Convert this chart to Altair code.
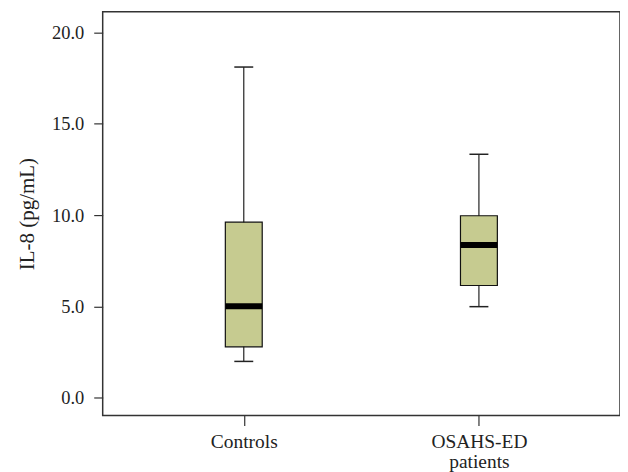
import altair as alt
import pandas as pd

groups = ["Controls", "OSAHS-ED patients"]
whisker_low = [1.98, 4.98]
q1 = [2.78, 6.14]
median = [5.0, 8.36]
q3 = [9.61, 9.96]
whisker_high = [18.11, 13.33]

df = pd.DataFrame({
    "group": groups,
    "lo": whisker_low,
    "q1": q1,
    "med": median,
    "q3": q3,
    "hi": whisker_high,
})

FONT = "Liberation Serif"

x_enc = alt.X(
    "group:N",
    scale=alt.Scale(type="point", padding=0.6),
    sort=groups,
    axis=alt.Axis(
        title=None,
        labelAngle=0,
        labelFont=FONT,
        labelFontSize=19.5,
        labelColor="#222",
        tickSize=10,
        tickColor="#333",
        tickWidth=1.2,
        domain=False,
        grid=False,
        labelPadding=7,
        labelLineHeight=20.5,
        labelExpr="datum.value == 'OSAHS-ED patients' ? ['OSAHS-ED', 'patients'] : datum.value",
    ),
)

y_scale = alt.Scale(domain=[-0.98, 21.14], nice=False, zero=False)
y_axis = alt.Axis(
    title="IL-8 (pg/mL)",
    titleFont=FONT,
    titleFontSize=21,
    titleFontWeight="normal",
    titleColor="#222",
    titlePadding=14,
    values=[0, 5, 10, 15, 20],
    format=".1f",
    labelFont=FONT,
    labelFontSize=18.5,
    labelColor="#222",
    tickSize=9,
    tickColor="#333",
    tickWidth=1.2,
    labelPadding=10,
    domain=False,
    grid=False,
)

base = alt.Chart(df)

whisker = base.mark_rule(color="#222", strokeWidth=1.2).encode(
    x=x_enc,
    y=alt.Y("lo:Q", scale=y_scale, axis=y_axis),
    y2="hi:Q",
)

caps_lo = base.mark_tick(color="#222", size=19, thickness=1.5, orient="horizontal", opacity=1).encode(
    x=x_enc, y=alt.Y("lo:Q", scale=y_scale)
)
caps_hi = base.mark_tick(color="#222", size=19, thickness=1.5, orient="horizontal", opacity=1).encode(
    x=x_enc, y=alt.Y("hi:Q", scale=y_scale)
)

box = base.mark_bar(size=37, fill="#C6CB90", stroke="#111", strokeWidth=1.2, opacity=1).encode(
    x=x_enc,
    y=alt.Y("q1:Q", scale=y_scale),
    y2="q3:Q",
)

med = base.mark_tick(color="#000", size=37, thickness=6, orient="horizontal", opacity=1).encode(
    x=x_enc, y=alt.Y("med:Q", scale=y_scale)
)

chart = (
    alt.layer(whisker, box, med, caps_lo, caps_hi)
    .properties(
        width=519,
        height=405,
        autosize=alt.AutoSizeParams(type="none"),
        padding={"left": 95, "top": 3, "right": 0, "bottom": 56},
        background="white",
    )
    .configure_view(stroke="#333", strokeWidth=1.5)
)

chart.save("out.html", embed_options={"renderer": "svg", "actions": False})
